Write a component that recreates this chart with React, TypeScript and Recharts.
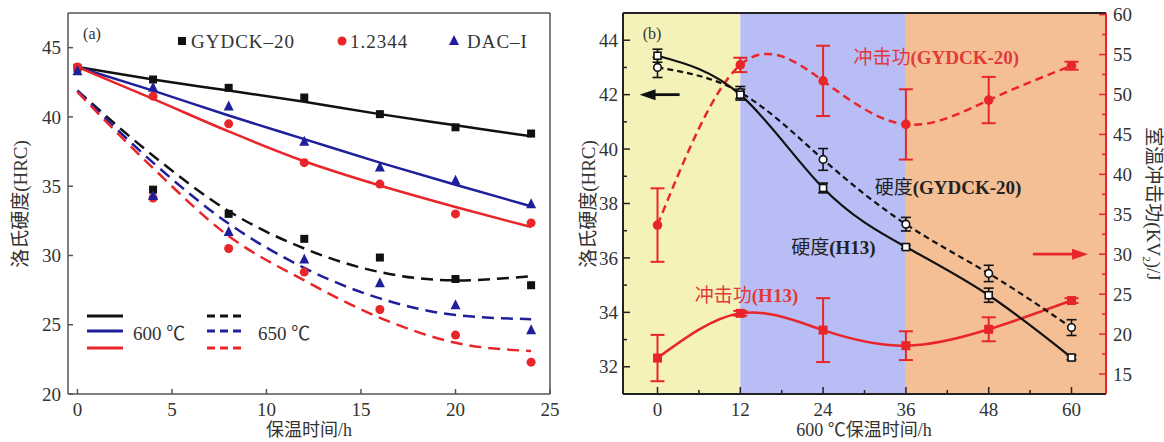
import React from "react";
import {
  ComposedChart,
  Line,
  Scatter,
  XAxis,
  YAxis,
  ReferenceLine,
  ReferenceArea,
  ReferenceDot,
  ErrorBar,
} from "recharts";

const SERIF = '"Liberation Serif", "Times New Roman", "Noto Sans CJK SC", serif';
const BLACK = "#111111";
const BLUE = "#1f1f9c";
const RED = "#e8262a";
const FRAME = "#555555";

// ---------- panel (a): hardness vs holding time ----------
const HOURS_A = [0, 4, 8, 12, 16, 20, 24];
const HOURS_A_650 = [4, 8, 12, 16, 20, 24];

// measured, 600 ℃
const GYDCK_600 = [43.55, 42.7, 42.1, 41.4, 40.2, 39.25, 38.8];
const STEEL_12344_600 = [43.6, 41.5, 39.5, 36.7, 35.15, 33.0, 32.35];
const DAC_600 = [43.3, 42.1, 40.75, 38.2, 36.35, 35.4, 33.7];

// measured, 650 ℃
const GYDCK_650 = [34.75, 33.0, 31.2, 29.85, 28.3, 27.85];
const STEEL_12344_650 = [34.15, 30.5, 28.8, 26.1, 24.25, 22.3];
const DAC_650 = [34.3, 31.7, 29.7, 28.0, 26.4, 24.6];

// fitted curves, read at HOURS_A
const FIT_GYDCK_600 = [43.6, 42.7, 41.9, 41.1, 40.2, 39.4, 38.6];
const FIT_12344_600 = [43.6, 41.3, 38.95, 36.8, 35.05, 33.5, 32.05];
const FIT_DAC_600 = [43.6, 41.9, 40.1, 38.4, 36.7, 35.1, 33.55];
const FIT_GYDCK_650 = [41.9, 37.2, 33.2, 30.5, 28.8, 28.2, 28.5];
const FIT_12344_650 = [41.8, 36.3, 31.4, 28.2, 25.5, 23.7, 23.1];
const FIT_DAC_650 = [41.9, 36.7, 32.3, 29.1, 26.9, 25.7, 25.4];

const A_X_TICKS = [0, 5, 10, 15, 20, 25];
const A_Y_TICKS = [20, 25, 30, 35, 40, 45];

// ---------- panel (b): 600 ℃ hardness + impact energy ----------
const HOURS_B = [0, 12, 24, 36, 48, 60];
const HARD_H13 = [43.43, 42.0, 38.57, 36.4, 34.63, 32.34];
const HARD_H13_ERR = [0.24, 0.2, 0.18, 0.06, 0.26, 0.08];
const HARD_GYDCK = [43.0, 42.08, 39.62, 37.24, 35.43, 33.44];
const HARD_GYDCK_ERR = [0.37, 0.22, 0.4, 0.25, 0.3, 0.29];
const IMPACT_H13 = [17.0, 22.6, 20.5, 18.55, 20.6, 24.2];
const IMPACT_H13_ERR = [2.9, 0.3, 4.0, 1.8, 1.5, 0.3];
const IMPACT_GYDCK = [33.65, 53.7, 51.7, 46.25, 49.3, 53.6];
const IMPACT_GYDCK_ERR = [4.6, 0.9, 4.4, 4.4, 2.9, 0.5];

const B_X_TICKS = [0, 6, 12, 18, 24, 30, 36, 42, 48, 54, 60];
const B_X_MAJOR = [0, 12, 24, 36, 48, 60];
const B_L_TICKS = [32, 33, 34, 35, 36, 37, 38, 39, 40, 41, 42, 43, 44];
const B_L_MAJOR = [32, 34, 36, 38, 40, 42, 44];
const B_R_TICKS = [15, 17.5, 20, 22.5, 25, 27.5, 30, 32.5, 35, 37.5, 40, 42.5, 45, 47.5, 50, 52.5, 55, 57.5, 60];
const B_R_MAJOR = [15, 20, 25, 30, 35, 40, 45, 50, 55, 60];

const BANDS = [
  { from: -5, to: 12, color: "#f5f2b9" },
  { from: 12, to: 36, color: "#b8bdf5" },
  { from: 36, to: 65, color: "#f5bf96" },
];

const tableA = HOURS_A.map((t, i) => ({
  t,
  fg6: FIT_GYDCK_600[i],
  fr6: FIT_12344_600[i],
  fb6: FIT_DAC_600[i],
  fg5: FIT_GYDCK_650[i],
  fr5: FIT_12344_650[i],
  fb5: FIT_DAC_650[i],
}));

const pts = (hours: number[], vals: number[]) => hours.map((t, i) => ({ t, v: vals[i] }));

const tableB = HOURS_B.map((t, i) => ({
  t,
  hH: HARD_H13[i],
  hHe: HARD_H13_ERR[i],
  hG: HARD_GYDCK[i],
  hGe: HARD_GYDCK_ERR[i],
  iH: IMPACT_H13[i],
  iHe: IMPACT_H13_ERR[i],
  iG: IMPACT_GYDCK[i],
  iGe: IMPACT_GYDCK_ERR[i],
}));

function tickFactory(
  side: "bottom" | "left" | "right",
  majors: number[],
  margin: number,
  majorLen: number,
  minorLen: number,
  lineColor: string
) {
  return (p: any) => {
    const v = Number(p.payload.value);
    const isMajor = majors.some((m) => Math.abs(m - v) < 1e-6);
    const len = isMajor ? majorLen : minorLen;
    const txt = { fontFamily: SERIF, fontSize: 19, fill: "#333" };
    if (side === "bottom") {
      const ay = p.y - margin;
      return (
        <g>
          <line x1={p.x} x2={p.x} y1={ay} y2={ay - len} stroke={lineColor} strokeWidth={1.5} />
          {isMajor && (
            <text x={p.x} y={p.y} dy="0.75em" textAnchor="middle" {...txt}>
              {v}
            </text>
          )}
        </g>
      );
    }
    if (side === "left") {
      const ax = p.x + margin;
      return (
        <g>
          <line x1={ax} x2={ax + len} y1={p.y} y2={p.y} stroke={lineColor} strokeWidth={1.5} />
          {isMajor && (
            <text x={p.x} y={p.y} dy="0.35em" textAnchor="end" {...txt}>
              {v}
            </text>
          )}
        </g>
      );
    }
    const ax = p.x - margin;
    return (
      <g>
        <line x1={ax} x2={ax - len} y1={p.y} y2={p.y} stroke={lineColor} strokeWidth={1.5} />
        {isMajor && (
          <text x={p.x} y={p.y} dy="0.35em" textAnchor="start" {...txt}>
            {v}
          </text>
        )}
      </g>
    );
  };
}

const square = (fill: string, size: number) => (p: any) =>
  <rect x={p.cx - size / 2} y={p.cy - size / 2} width={size} height={size} fill={fill} />;
const circle = (fill: string, r: number) => (p: any) => <circle cx={p.cx} cy={p.cy} r={r} fill={fill} />;
const triangle = (fill: string, s: number) => (p: any) => (
  <polygon
    points={`${p.cx},${p.cy - s * 0.6} ${p.cx - s / 2},${p.cy + s * 0.4} ${p.cx + s / 2},${p.cy + s * 0.4}`}
    fill={fill}
  />
);

const openSquare = (p: any) => (
  <rect key={`s${p.index}`} x={p.cx - 3.5} y={p.cy - 3.5} width={7} height={7} fill="#fff" stroke={BLACK} strokeWidth={1.6} />
);
const openCircle = (p: any) => (
  <circle key={`c${p.index}`} cx={p.cx} cy={p.cy} r={3.8} fill="#fff" stroke={BLACK} strokeWidth={1.6} />
);
const redSquare = (p: any) => (
  <rect key={`rs${p.index}`} x={p.cx - 4.5} y={p.cy - 4.5} width={9} height={9} fill={RED} />
);
const redCircle = (p: any) => <circle key={`rc${p.index}`} cx={p.cx} cy={p.cy} r={4.8} fill={RED} />;

const arrowShape = (color: string) => (p: any) => {
  const { x1, y1, x2, y2 } = p;
  const dir = Math.sign(x2 - x1);
  return (
    <g>
      <line x1={x1} y1={y1} x2={x2 - dir * 10} y2={y2} stroke={color} strokeWidth={2.8} />
      <polygon points={`${x2},${y2} ${x2 - dir * 16},${y2 - 5.5} ${x2 - dir * 16},${y2 + 5.5}`} fill={color} />
    </g>
  );
};

// annotation labels in panel (b): [hours, value, axis, colour, plain part, bold part]
const B_LABELS: [number, number, string, string, string, string][] = [
  [40.4, 54.6, "r", "#e03a3a", "冲击功", "(GYDCK-20)"],
  [42.1, 38.6, "l", "#222", "硬度", "(GYDCK-20)"],
  [25.5, 36.4, "l", "#222", "硬度", "(H13)"],
  [12.9, 34.63, "l", "#e03a3a", "冲击功", "(H13)"],
];
const B_ARROWS: [number, number, number, string, string][] = [
  [3.2, -2.6, 42, "l", BLACK],
  [54.4, 62.4, 30, "r", RED],
];

const labelShape = (color: string, plain: string, bold: string) => (p: any) => (
  <text
    x={p.cx}
    y={p.cy}
    dy="0.35em"
    textAnchor="middle"
    fontFamily={SERIF}
    fontSize={19}
    fill={color}
  >
    <tspan>{plain}</tspan>
    <tspan fontWeight="bold">{bold}</tspan>
  </text>
);

const abs = (extra: React.CSSProperties): React.CSSProperties => ({
  position: "absolute",
  fontFamily: SERIF,
  whiteSpace: "nowrap",
  color: "#333",
  lineHeight: 1,
  ...extra,
});

function PanelA() {
  return (
    <div style={{ position: "absolute", left: 0, top: 0, width: 580, height: 442 }}>
      <ComposedChart width={580} height={442} data={tableA} margin={{ top: 13, right: 30, bottom: 18, left: 18 }}>
        <XAxis
          dataKey="t"
          type="number"
          domain={[-0.5, 25]}
          ticks={A_X_TICKS}
          interval={0}
          allowDataOverflow
          height={30}
          tickSize={0}
          tickLine={false}
          tickMargin={8}
          axisLine={{ stroke: FRAME, strokeWidth: 1.5 }}
          tick={tickFactory("bottom", A_X_TICKS, 8, 5, 5, FRAME)}
        />
        <YAxis
          type="number"
          domain={[20, 47.5]}
          ticks={A_Y_TICKS}
          interval={0}
          allowDataOverflow
          width={50}
          tickSize={0}
          tickLine={false}
          tickMargin={7}
          axisLine={{ stroke: FRAME, strokeWidth: 1.5 }}
          tick={tickFactory("left", A_Y_TICKS, 7, 5, 5, FRAME)}
        />
        <ReferenceLine y={47.5} stroke={FRAME} strokeWidth={1.5} />
        <ReferenceLine x={25} stroke={FRAME} strokeWidth={1.5} />

        <Line dataKey="fg6" type="monotone" stroke={BLACK} strokeWidth={2.5} dot={false} isAnimationActive={false} />
        <Line dataKey="fb6" type="monotone" stroke={BLUE} strokeWidth={2.5} dot={false} isAnimationActive={false} />
        <Line dataKey="fr6" type="monotone" stroke={RED} strokeWidth={2.5} dot={false} isAnimationActive={false} />
        <Line dataKey="fg5" type="monotone" stroke={BLACK} strokeWidth={2.5} strokeDasharray="12 7" dot={false} isAnimationActive={false} />
        <Line dataKey="fb5" type="monotone" stroke={BLUE} strokeWidth={2.5} strokeDasharray="12 7" dot={false} isAnimationActive={false} />
        <Line dataKey="fr5" type="monotone" stroke={RED} strokeWidth={2.5} strokeDasharray="12 7" dot={false} isAnimationActive={false} />

        <Scatter data={pts(HOURS_A, GYDCK_600)} dataKey="v" shape={square(BLACK, 8)} isAnimationActive={false} />
        <Scatter data={pts(HOURS_A, STEEL_12344_600)} dataKey="v" shape={circle(RED, 4.5)} isAnimationActive={false} />
        <Scatter data={pts(HOURS_A, DAC_600)} dataKey="v" shape={triangle(BLUE, 10)} isAnimationActive={false} />
        <Scatter data={pts(HOURS_A_650, GYDCK_650)} dataKey="v" shape={square(BLACK, 8)} isAnimationActive={false} />
        <Scatter data={pts(HOURS_A_650, STEEL_12344_650)} dataKey="v" shape={circle(RED, 4.5)} isAnimationActive={false} />
        <Scatter data={pts(HOURS_A_650, DAC_650)} dataKey="v" shape={triangle(BLUE, 10)} isAnimationActive={false} />
      </ComposedChart>

      <div style={abs({ left: 92, top: 34, fontSize: 16, transform: "translate(-50%,-50%)" })}>(a)</div>

      {/* marker legend */}
      <svg style={{ position: "absolute", left: 0, top: 0 }} width={580} height={60}>
        <rect x={178} y={37} width={8} height={8} fill={BLACK} />
        <circle cx={342} cy={41} r={4.5} fill={RED} />
        <polygon points="454,35 449,45 459,45" fill={BLUE} />
      </svg>
      <div style={abs({ left: 191, top: 41, fontSize: 19, letterSpacing: 1, transform: "translateY(-50%)" })}>GYDCK–20</div>
      <div style={abs({ left: 350, top: 41, fontSize: 19, letterSpacing: 1, transform: "translateY(-50%)" })}>1.2344</div>
      <div style={abs({ left: 467, top: 41, fontSize: 19, letterSpacing: 1, transform: "translateY(-50%)" })}>DAC–I</div>

      {/* line legend */}
      <svg style={{ position: "absolute", left: 0, top: 300 }} width={260} height={60}>
        <line x1={87} x2={123} y1={16} y2={16} stroke={BLACK} strokeWidth={2.8} />
        <line x1={87} x2={123} y1={31} y2={31} stroke={BLUE} strokeWidth={2.8} />
        <line x1={87} x2={123} y1={48} y2={48} stroke={RED} strokeWidth={2.8} />
        <line x1={207} x2={242} y1={16} y2={16} stroke={BLACK} strokeWidth={2.8} strokeDasharray="8 5" />
        <line x1={207} x2={242} y1={31} y2={31} stroke={BLUE} strokeWidth={2.8} strokeDasharray="8 5" />
        <line x1={207} x2={242} y1={48} y2={48} stroke={RED} strokeWidth={2.8} strokeDasharray="8 5" />
      </svg>
      <div style={abs({ left: 133, top: 333, fontSize: 19, transform: "translateY(-50%)" })}>600 ℃</div>
      <div style={abs({ left: 258, top: 333, fontSize: 19, transform: "translateY(-50%)" })}>650 ℃</div>

      <div style={abs({ left: 20, top: 204, fontSize: 19, transform: "translate(-50%,-50%) rotate(-90deg)" })}>
        洛氏硬度(HRC)
      </div>
      <div style={abs({ left: 309, top: 430, fontSize: 18, transform: "translate(-50%,-50%)" })}>保温时间/h</div>
    </div>
  );
}

function PanelB() {
  return (
    <div style={{ position: "absolute", left: 580, top: 0, width: 584, height: 442 }}>
      <ComposedChart width={584} height={442} data={tableB} margin={{ top: 13, right: 18, bottom: 18, left: 3 }}>
        {BANDS.map((b) => (
          <ReferenceArea
            key={b.from}
            x1={b.from}
            x2={b.to}
            yAxisId="l"
            fill={b.color}
            fillOpacity={1}
            stroke="none"
          />
        ))}
        <XAxis
          dataKey="t"
          type="number"
          domain={[-5, 65]}
          ticks={B_X_TICKS}
          interval={0}
          allowDataOverflow
          height={30}
          tickSize={0}
          tickLine={false}
          tickMargin={8}
          axisLine={{ stroke: "#222", strokeWidth: 2 }}
          tick={tickFactory("bottom", B_X_MAJOR, 8, 7, 4, "#222")}
        />
        <YAxis
          yAxisId="l"
          type="number"
          domain={[31, 45]}
          ticks={B_L_TICKS}
          interval={0}
          allowDataOverflow
          width={40}
          tickSize={0}
          tickLine={false}
          tickMargin={5}
          axisLine={{ stroke: "#222", strokeWidth: 2 }}
          tick={tickFactory("left", B_L_MAJOR, 5, 7, 4, "#222")}
        />
        <YAxis
          yAxisId="r"
          orientation="right"
          type="number"
          domain={[12.5, 60.2]}
          ticks={B_R_TICKS}
          interval={0}
          allowDataOverflow
          width={40}
          tickSize={0}
          tickLine={false}
          tickMargin={7}
          axisLine={{ stroke: RED, strokeWidth: 2 }}
          tick={tickFactory("right", B_R_MAJOR, 7, 7, 4, RED)}
        />
        <ReferenceLine y={45} yAxisId="l" stroke="#222" strokeWidth={2} />

        <Line yAxisId="r" dataKey="iG" type="natural" stroke={RED} strokeWidth={2.5} strokeDasharray="8 5" dot={redCircle} isAnimationActive={false}>
          <ErrorBar dataKey="iGe" width={7} stroke={RED} strokeWidth={2} direction="y" />
        </Line>
        <Line yAxisId="r" dataKey="iH" type="natural" stroke={RED} strokeWidth={2.5} dot={redSquare} isAnimationActive={false}>
          <ErrorBar dataKey="iHe" width={7} stroke={RED} strokeWidth={2} direction="y" />
        </Line>
        <Line yAxisId="l" dataKey="hG" type="natural" stroke={BLACK} strokeWidth={2.2} strokeDasharray="6 4" dot={openCircle} isAnimationActive={false}>
          <ErrorBar dataKey="hGe" width={5} stroke={BLACK} strokeWidth={1.6} direction="y" />
        </Line>
        <Line yAxisId="l" dataKey="hH" type="natural" stroke={BLACK} strokeWidth={2.2} dot={openSquare} isAnimationActive={false}>
          <ErrorBar dataKey="hHe" width={5} stroke={BLACK} strokeWidth={1.6} direction="y" />
        </Line>

        {B_ARROWS.map(([from, to, y, axis, color]) => (
          <ReferenceLine
            key={`${from}-${to}`}
            yAxisId={axis}
            segment={[
              { x: from, y },
              { x: to, y },
            ]}
            shape={arrowShape(color)}
          />
        ))}
        {B_LABELS.map(([x, y, axis, color, plain, bold]) => (
          <ReferenceDot
            key={`${plain}${bold}`}
            x={x}
            y={y}
            yAxisId={axis}
            r={0}
            shape={labelShape(color, plain, bold)}
          />
        ))}
      </ComposedChart>

      <div style={abs({ left: 72, top: 34, fontSize: 16, transform: "translate(-50%,-50%)" })}>(b)</div>
      <div style={abs({ left: 8, top: 204, fontSize: 19, transform: "translate(-50%,-50%) rotate(-90deg)" })}>
        洛氏硬度(HRC)
      </div>
      <div style={abs({ left: 572, top: 204, fontSize: 19, transform: "translate(-50%,-50%) rotate(90deg)" })}>
        室温冲击功(KV<sub style={{ fontSize: 11 }}>2</sub>)/J
      </div>
      <div style={abs({ left: 284, top: 430, fontSize: 18, transform: "translate(-50%,-50%)" })}>600 ℃保温时间/h</div>
    </div>
  );
}

export default function App() {
  return (
    <div style={{ position: "absolute", left: 0, top: 0, width: 1164, height: 442, background: "#fff", overflow: "hidden" }}>
      <PanelA />
      <PanelB />
    </div>
  );
}
